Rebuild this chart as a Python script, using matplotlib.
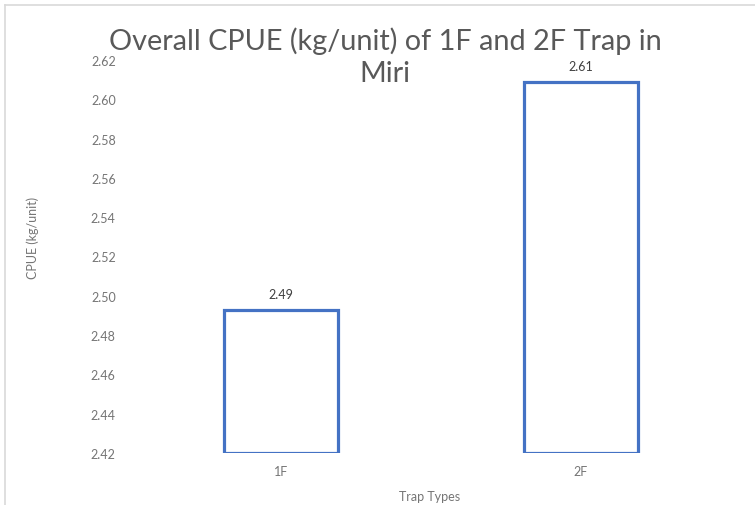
import matplotlib
matplotlib.use("Agg")
import matplotlib.pyplot as plt
from matplotlib.lines import Line2D

categories = ["1F", "2F"]
values = [2.493, 2.609]
labels = ["2.49", "2.61"]
yticks = [2.42, 2.44, 2.46, 2.48, 2.50, 2.52, 2.54, 2.56, 2.58, 2.60, 2.62]

W, H = 755, 506
fig = plt.figure(figsize=(W / 100, H / 100), dpi=100)
plt.rcParams['font.family'] = ['Lato', 'DejaVu Sans']

# axes in pixel coordinates
x0, x1 = 131, 731
y_top, y_bot = 61, 454
ax = fig.add_axes([x0 / W, 1 - y_bot / H, (x1 - x0) / W, (y_bot - y_top) / H])
ax.set_xlim(-0.5, 1.5)
ax.set_ylim(2.42, 2.62)

blue = "#4472C4"
gray = "#757575"
fs = 9
xs = range(len(categories))
ax.bar(xs, [v - 2.42 for v in values], bottom=2.42, width=0.383,
       facecolor="white", edgecolor=blue, linewidth=2.3, zorder=3)
for x, v, lab in zip(xs, values, labels):
    ax.annotate(lab, (x, v), xytext=(0, 11), textcoords="offset points",
                ha="center", va="center", fontsize=fs, color="#404040")

ax.set_xticks(list(xs))
ax.set_xticklabels(categories, fontsize=fs, color=gray)
ax.set_yticks(yticks)
ax.set_yticklabels([f"{t:.2f}" for t in yticks], fontsize=fs, color=gray)
ax.tick_params(length=0, pad=11)
ax.tick_params(axis="x", pad=9)
for s in ax.spines.values():
    s.set_visible(False)

fig.text(33 / W, 1 - 238 / H, "CPUE (kg/unit)", rotation=90, ha="center", va="center",
         fontsize=fs, color=gray)
fig.text(430 / W, 1 - 497 / H, "Trap Types", ha="center", va="center",
         fontsize=fs, color=gray)
fig.text(385 / W, 1 - 41 / H, "Overall CPUE (kg/unit) of 1F and 2F Trap in",
         ha="center", va="center", fontsize=20.8, color="#595959")
fig.text(385 / W, 1 - 74 / H, "Miri",
         ha="center", va="center", fontsize=20.8, color="#595959")

# chart border (top and left)
bc = "#D9D9D9"
fig.add_artist(Line2D([5 / W, 1], [1 - 6 / H, 1 - 6 / H], color=bc, lw=1.2, transform=fig.transFigure))
fig.add_artist(Line2D([5 / W, 5 / W], [1 - 6 / H, 0], color=bc, lw=1.2, transform=fig.transFigure))

fig.savefig("out.png", dpi=100, facecolor="white")
